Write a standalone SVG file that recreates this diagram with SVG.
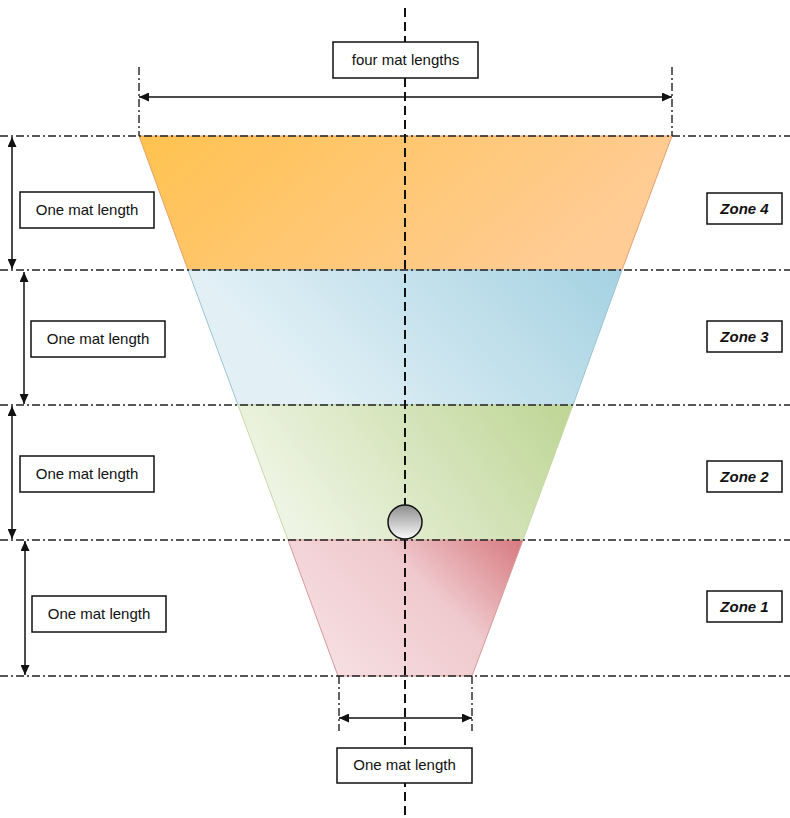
<svg xmlns="http://www.w3.org/2000/svg" width="790" height="818" viewBox="0 0 790 818">
<style>
.dd{stroke:#222;stroke-width:1.4;stroke-dasharray:8 3 2 3;fill:none}
.ctr{stroke:#111;stroke-width:2;stroke-dasharray:9 5;fill:none}
.arr{stroke:#111;stroke-width:1.5;fill:none;marker-start:url(#ah);marker-end:url(#ah)}
.box{fill:#fff;stroke:#111;stroke-width:1.5}
.t{font-family:"Liberation Sans",Arial,sans-serif;font-size:15px;fill:#111;text-anchor:middle}
.z{font-family:"Liberation Sans",Arial,sans-serif;font-size:15px;font-weight:bold;font-style:italic;fill:#111;text-anchor:middle}
</style>
<defs>
<marker id="ah" viewBox="0 0 10 10" refX="10" refY="5" markerWidth="10" markerHeight="9" orient="auto-start-reverse" markerUnits="userSpaceOnUse" preserveAspectRatio="none">
<path d="M0,0 L10,5 L0,10 Z" fill="#111"/>
</marker>
<linearGradient id="g4" x1="0" y1="0" x2="1" y2="0.3"><stop offset="0" stop-color="#FFC24F"/><stop offset="1" stop-color="#FFCC95"/></linearGradient>
<linearGradient id="g3" x1="0" y1="0" x2="1" y2="-0.3"><stop offset="0" stop-color="#E2F0F6"/><stop offset="1" stop-color="#9FCFE0"/></linearGradient>
<linearGradient id="g2" x1="0" y1="0.3" x2="1" y2="0"><stop offset="0" stop-color="#EEF4E3"/><stop offset="1" stop-color="#BDD594"/></linearGradient>
<linearGradient id="g1" x1="0" y1="0.6" x2="1" y2="0"><stop offset="0" stop-color="#F6DEE1"/><stop offset="0.55" stop-color="#EFC9CD"/><stop offset="1" stop-color="#D6797F"/></linearGradient>
<linearGradient id="gb" x1="0" y1="0" x2="0" y2="1"><stop offset="0" stop-color="#8E8E8E"/><stop offset="1" stop-color="#FAFAFA"/></linearGradient>
</defs>

<g id="zones">
<polygon id="zone4-band" points="139,136 672,136 622,270 188,270" fill="url(#g4)" stroke="#E8A070" stroke-width="1"/>
<polygon id="zone3-band" points="188,270 622,270 573,405 238,405" fill="url(#g3)" stroke="#9CC4D4" stroke-width="1"/>
<polygon id="zone2-band" points="238,405 573,405 523,540 288,540" fill="url(#g2)" stroke="#C8D9A8" stroke-width="1"/>
<polygon id="zone1-band" points="288,540 523,540 472,676 338,676" fill="url(#g1)" stroke="#D9999C" stroke-width="1"/>
</g>

<g id="connectors">
<line class="dd" x1="0" y1="136" x2="790" y2="136"/>
<line class="dd" x1="0" y1="270" x2="790" y2="270"/>
<line class="dd" x1="0" y1="405" x2="790" y2="405"/>
<line class="dd" x1="0" y1="540" x2="790" y2="540"/>
<line class="dd" x1="0" y1="676" x2="790" y2="676"/>
<line class="dd" x1="139" y1="67" x2="139" y2="136"/>
<line class="dd" x1="672" y1="67" x2="672" y2="136"/>
<line class="dd" x1="339" y1="676" x2="339" y2="731"/>
<line class="dd" x1="472" y1="676" x2="472" y2="731"/>
<line class="ctr" x1="405" y1="8" x2="405" y2="818"/>
<line class="arr" x1="139" y1="97" x2="672" y2="97"/>
<line class="arr" x1="339" y1="718" x2="472" y2="718"/>
<line class="arr" x1="12" y1="137" x2="12" y2="269"/>
<line class="arr" x1="24" y1="272" x2="24" y2="404"/>
<line class="arr" x1="12" y1="406" x2="12" y2="539"/>
<line class="arr" x1="25" y1="541" x2="25" y2="675"/>
</g>

<g id="ball"><circle cx="405" cy="522" r="17" fill="url(#gb)" stroke="#111" stroke-width="1.5"/></g>

<g id="label-four"><rect class="box" x="333" y="42" width="145" height="36"/><text class="t" x="405.5" y="65">four mat lengths</text></g>
<g id="label-bottom"><rect class="box" x="337" y="748" width="135" height="35"/><text class="t" x="404.5" y="770">One mat length</text></g>
<g id="label-l4"><rect class="box" x="20" y="192" width="134" height="36"/><text class="t" x="87" y="215">One mat length</text></g>
<g id="label-l3"><rect class="box" x="31" y="321" width="134" height="36"/><text class="t" x="98" y="344">One mat length</text></g>
<g id="label-l2"><rect class="box" x="20" y="456" width="134" height="36"/><text class="t" x="87" y="479">One mat length</text></g>
<g id="label-l1"><rect class="box" x="32" y="596" width="134" height="36"/><text class="t" x="99" y="619">One mat length</text></g>

<g id="zone4"><rect class="box" x="707" y="193" width="75" height="31"/><text class="z" x="744.5" y="214">Zone 4</text></g>
<g id="zone3"><rect class="box" x="707" y="321" width="75" height="31"/><text class="z" x="744.5" y="342">Zone 3</text></g>
<g id="zone2"><rect class="box" x="707" y="461" width="75" height="31"/><text class="z" x="744.5" y="482">Zone 2</text></g>
<g id="zone1"><rect class="box" x="707" y="591" width="75" height="31"/><text class="z" x="744.5" y="612">Zone 1</text></g>
</svg>
